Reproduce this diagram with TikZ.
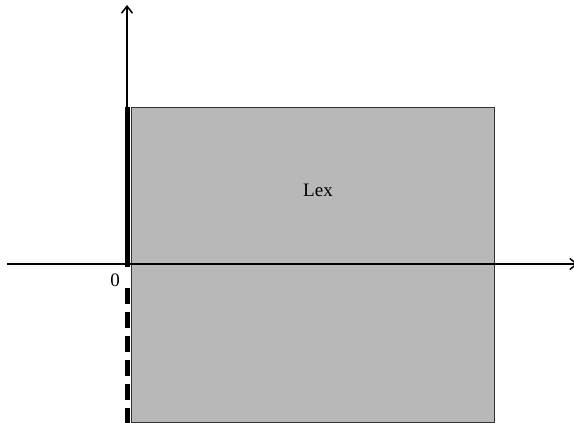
\documentclass[tikz,border=0pt]{standalone}
\usepackage{fontspec}
\setmainfont{Liberation Serif}
\usetikzlibrary{arrows.meta,positioning,calc}
\definecolor{regiongray}{HTML}{B8B8B8}

\begin{document}
\begin{tikzpicture}[
    x=1pt, y=-1pt,
    axis/.style={line width=1.6pt, -{Straight Barb[length=7pt,width=11pt,line width=1.5pt]}},
    boundary/.style={line width=4.5pt},
    every node/.style={font=\fontsize{19}{22}\selectfont}
]
    \useasboundingbox (0,0) rectangle (574,423);

    % Region
    \node[draw=black!80, line width=1pt, fill=regiongray, minimum width=363pt, minimum height=315pt,
          inner sep=0pt, anchor=north west] (region) at (131,107) {};
    \node (lex) at (318,190) {Lex};

    % Axes
    \coordinate (origin) at (127,264);
    \coordinate (xstart) at (7,264);
    \coordinate (xend) at (578,264);
    \coordinate (ytop) at (127,5);
    \draw[axis] (xstart) -- (xend);
    \draw[axis] (origin) -- (ytop);
    \node[anchor=north east, inner sep=2pt] (zero) at (122,272) {0};

    % Boundary: solid above, dashed below
    \draw[boundary] (region.north west) ++(-3.5,0) coordinate (btop) -- ($(btop |- origin)+(0,3)$) coordinate (bmid);
    \draw[boundary, dash pattern=on 16pt off 8pt] ($(bmid)+(0,21)$) -- (bmid |- region.south west);
\end{tikzpicture}
\end{document}
